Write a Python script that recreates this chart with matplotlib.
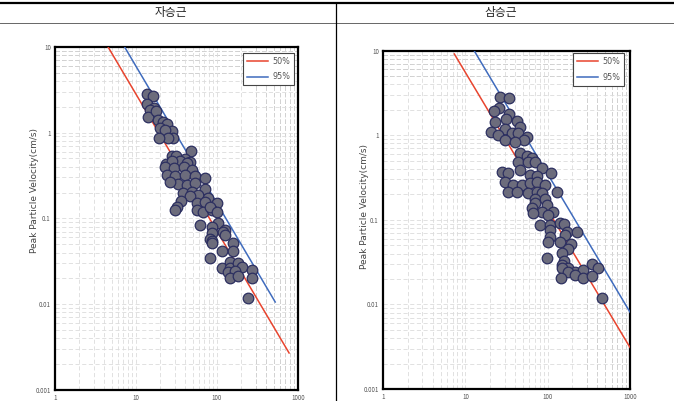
import numpy as np
import matplotlib
matplotlib.use("Agg")
import matplotlib.pyplot as plt
from matplotlib.lines import Line2D
from matplotlib.ticker import LogLocator, NullFormatter, FixedLocator, FixedFormatter

plt.rcParams['font.family'] = ['Noto Sans CJK KR', 'DejaVu Sans']

# panel titles
titles = ["자승근", "삼승근"]

# left panel (square-root scaled distance) measurements
sq_x = [13.8, 16.4, 13.6, 16.8, 14.9, 14.2, 17.5, 18.8, 21.7, 23.9, 19.8, 27.6,
        22.8, 28.8, 24.6, 19.2, 47.8, 27.6, 30.9, 40.3, 34.9, 46.4, 23.3,
        27.6, 42.3, 22.8, 29.7, 39.5, 48.7, 23.9, 30.3, 40.3, 53.5, 71.1,
        33.3, 42.3, 53.5, 26.3, 71.1, 38.4, 48.7, 57.8, 46.4, 35.9, 78.1,
        56.2, 71.1, 99.1, 31.8, 30.3, 56.2, 67.7, 87.5, 82.0, 99.1, 61.7,
        102, 86.0, 87.5, 126, 120, 82.0,
        86.0, 87.5, 126, 159, 159, 114, 82.0, 116, 145, 145, 180, 202, 138,
        167, 145, 183, 268, 268, 239]
sq_y = [2.79, 2.66, 2.15, 1.95, 1.83, 1.50, 1.78, 1.40, 1.32, 1.25, 1.12, 1.04,
        1.07, 0.87, 0.87, 0.855, 0.608, 0.537, 0.537, 0.491, 0.466, 0.450, 0.426,
        0.466, 0.445, 0.393, 0.383, 0.393, 0.366, 0.320, 0.311, 0.320, 0.311,
        0.292, 0.251, 0.244, 0.256, 0.267, 0.218, 0.199, 0.204, 0.187, 0.182,
        0.160, 0.171, 0.150, 0.156, 0.152, 0.136, 0.125, 0.125, 0.119, 0.125,
        0.136, 0.119, 0.0835, 0.0889, 0.0798, 0.0679, 0.0731, 0.0700, 0.0569,
        0.0543, 0.0512, 0.0638, 0.0512, 0.0416, 0.0416, 0.0342, 0.0265, 0.0312,
        0.0265, 0.0299, 0.0273, 0.0235, 0.0243, 0.0203, 0.0214, 0.0250, 0.0203,
        0.0119]

# right panel (cube-root scaled distance) measurements
cb_x = [26.4, 34.0, 25.7, 22.5, 34.0, 31.0, 42.1, 22.9, 30.4, 46.2, 20.5, 24.8,
        36.6, 44.1, 55.7, 52.1, 30.4, 40.2, 46.2, 55.7, 64.1, 44.1, 58.3, 70.3,
        46.2, 27.7, 33.3, 86.2, 110, 61.1, 73.7, 30.4, 38.3, 48.4, 61.1, 73.7,
        93.0, 33.3, 42.1, 58.3, 73.7, 84.8, 129, 70.3, 93.0, 70.3, 97.5, 64.1,
        84.8, 117, 67.0, 102, 80.9, 107, 142, 160, 107, 171, 226, 107,
        163, 100, 142, 192, 179, 151, 97.5, 160, 151, 179, 148, 215, 272, 349,
        406, 179, 146, 215, 272, 349, 454]
cb_y = [2.86, 2.74, 2.12, 1.94, 1.77, 1.56, 1.48, 1.43, 1.19, 1.26, 1.10, 1.01,
        1.06, 1.06, 0.962, 0.879, 0.879, 0.840, 0.612, 0.574, 0.543, 0.480,
        0.480, 0.480, 0.389, 0.372, 0.356, 0.407, 0.361, 0.340, 0.330, 0.283,
        0.259, 0.259, 0.271, 0.283, 0.259, 0.216, 0.216, 0.210, 0.216, 0.206,
        0.216, 0.175, 0.175, 0.157, 0.150, 0.137, 0.125, 0.125, 0.122, 0.114,
        0.0871, 0.0871, 0.0927, 0.0895, 0.0760, 0.0726, 0.0726, 0.0633,
        0.0664, 0.0543, 0.0543, 0.0515, 0.0453, 0.0403, 0.0352, 0.0327, 0.0293,
        0.0272, 0.0268, 0.0244, 0.0256, 0.0299, 0.0272, 0.0240, 0.0207, 0.0223,
        0.0207, 0.0219, 0.0120]

# regression lines (endpoints) : 50% and 95%
sq_50_x, sq_50_y = [4.5, 776], [10, 0.0027]
sq_95_x, sq_95_y = [7.2, 523], [10, 0.0106]
cb_50_x, cb_50_y = [7.35, 1000], [9.15, 0.0031]
cb_95_x, cb_95_y = [12.8, 1000], [10, 0.0081]

xticks = [1, 10, 100, 1000]
xtick_labels = ["1", "10", "100", "1000"]
yticks = [0.001, 0.01, 0.1, 1, 10]
ytick_labels = ["0.001", "0.01", "0.1", "1", "10"]

fig = plt.figure(figsize=(6.74, 4.01), dpi=100)

# table-like header
fig.add_artist(Line2D([0, 1], [1 - 2.5 / 401] * 2, color="black", lw=1.6))
fig.add_artist(Line2D([0, 1], [1 - 23 / 401] * 2, color="#666666", lw=0.7))
fig.add_artist(Line2D([336 / 674] * 2, [0, 1 - 2.5 / 401], color="black", lw=0.9))
fig.text(171 / 674, 1 - 12.5 / 401, titles[0], ha="center", va="center",
         fontsize=8.5, color="#222222")
fig.text(501 / 674, 1 - 12.5 / 401, titles[1], ha="center", va="center",
         fontsize=8.5, color="#222222")

panels = [
    ([55 / 674, 1 - 390 / 401, 243 / 674, 343.3 / 401],
     sq_x, sq_y, sq_50_x, sq_50_y, sq_95_x, sq_95_y,
     (-0.066, 0.58), (0.984, 0.982)),
    ([383 / 674, 1 - 389 / 401, 247 / 674, 338.3 / 401],
     cb_x, cb_y, cb_50_x, cb_50_y, cb_95_x, cb_95_y,
     (-0.057, 0.54), (0.976, 0.993)),
]

for rect, px, py, l50x, l50y, l95x, l95y, lab_xy, leg_xy in panels:
    ax = fig.add_axes(rect)
    ax.set_xscale("log")
    ax.set_yscale("log")
    ax.set_xlim(1, 1000)
    ax.set_ylim(0.001, 10)

    # light dashed grid everywhere, darker in the upper decade / far decade
    ax.xaxis.set_minor_locator(LogLocator(base=10, subs=np.arange(2, 10)))
    ax.yaxis.set_minor_locator(LogLocator(base=10, subs=np.arange(2, 10)))
    ax.xaxis.set_minor_formatter(NullFormatter())
    ax.yaxis.set_minor_formatter(NullFormatter())
    ax.grid(which="both", ls=(0, (5, 3)), color="#dcdcdc", lw=0.6)
    for v in [5, 6, 7, 8, 9]:
        ax.axhline(v, ls=(0, (5, 3)), color="#909090", lw=0.6, zorder=1)
    for v in [300, 400, 500, 600, 700, 800, 900]:
        ax.axvline(v, ls=(0, (5, 3)), color="#909090", lw=0.6, zorder=1)

    ax.plot(l50x, l50y, color="#e8442e", lw=1.1, label="50%", zorder=3)
    ax.plot(l95x, l95y, color="#3f6bbd", lw=1.1, label="95%", zorder=3)
    ax.scatter(px, py, s=58, facecolor="#6c6c7c", edgecolor="#2c2f60",
               lw=0.9, zorder=4)

    ax.xaxis.set_major_locator(FixedLocator(xticks))
    ax.xaxis.set_major_formatter(FixedFormatter(xtick_labels))
    ax.yaxis.set_major_locator(FixedLocator(yticks))
    ax.yaxis.set_major_formatter(FixedFormatter(ytick_labels))
    ax.tick_params(which="both", length=0, labelsize=4.5, labelcolor="#555555",
                   pad=3)
    for s in ax.spines.values():
        s.set_linewidth(1.6)
        s.set_color("black")

    ax.set_ylabel("Peak Particle Velocity(cm/s)", fontsize=6.5, color="#444444",
                  family="DejaVu Sans")
    ax.yaxis.set_label_coords(*lab_xy)

    leg = ax.legend(loc="upper right", fontsize=5.8, frameon=True, fancybox=False,
                    handlelength=2.6, handletextpad=0.5, borderpad=0.5,
                    labelspacing=0.8, borderaxespad=0, bbox_to_anchor=leg_xy)
    leg.get_frame().set_edgecolor("#444444")
    leg.get_frame().set_linewidth(0.8)
    leg.get_frame().set_alpha(1)
    for t in leg.get_texts():
        t.set_color("#555555")
        t.set_family("DejaVu Sans")

fig.savefig("out.png", dpi=100)
